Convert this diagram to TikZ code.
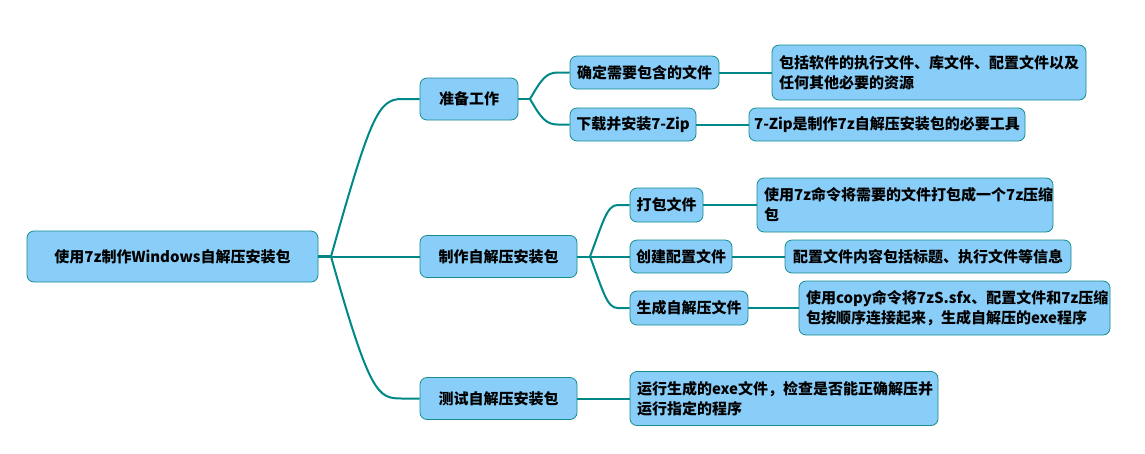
\documentclass[tikz,border=0pt]{standalone}
\usepackage{fontspec}
\setmainfont{Noto Sans CJK SC}
\definecolor{boxfill}{RGB}{137,206,249}
\definecolor{boxline}{RGB}{22,140,140}
\definecolor{conncol}{RGB}{0,136,136}
\tikzset{
  box/.style={draw=boxline, fill=boxfill, rounded corners=7pt, line width=0.8pt,
    font=\bfseries\fontsize{15}{20}\selectfont, inner sep=0pt, align=center, text=black},
  wide/.style={box, align=left, inner xsep=7pt},
  conn/.style={draw=conncol, line width=2pt},
}
\begin{document}
\begin{tikzpicture}[x=1pt,y=-1pt]
\useasboundingbox (0,0) rectangle (1145,453);
% nodes
\node[box, minimum width=291pt, minimum height=51pt] (root) at (172.5,256.5) {使用7z制作Windows自解压安装包};
\node[box, minimum width=98pt, minimum height=42pt] (p1) at (469,99) {准备工作};
\node[box, minimum width=157pt, minimum height=42pt] (p2) at (498.5,256.5) {制作自解压安装包};
\node[box, minimum width=157pt, minimum height=42pt] (p3) at (498.5,398.5) {测试自解压安装包};
\node[box, minimum width=149pt, minimum height=33pt] (a1) at (644.5,72.5) {确定需要包含的文件};
\node[box, minimum width=126pt, minimum height=33pt] (a2) at (633,124.5) {下载并安装7-Zip};
\node[wide, text width=300pt, minimum height=55pt] (a1d) at (929,72.5) {包括软件的执行文件、库文件、配置文件以及\\任何其他必要的资源};
\node[box, minimum width=276pt, minimum height=33pt] (a2d) at (887,124.5) {7-Zip是制作7z自解压安装包的必要工具};
\node[box, minimum width=73pt, minimum height=34pt] (b1) at (666.5,205) {打包文件};
\node[wide, text width=282pt, minimum height=54pt] (b1d) at (905,205) {使用7z命令将需要的文件打包成一个7z压缩\\包};
\node[box, minimum width=102pt, minimum height=33pt] (b2) at (681,256.5) {创建配置文件};
\node[box, minimum width=286pt, minimum height=33pt] (b2d) at (928,256.5) {配置文件内容包括标题、执行文件等信息};
\node[box, minimum width=118pt, minimum height=34pt] (b3) at (689,308) {生成自解压文件};
\node[wide, text width=297pt, minimum height=54pt] (b3d) at (954.5,308) {使用copy命令将7zS.sfx、配置文件和7z压缩\\包按顺序连接起来，生成自解压的exe程序};
\node[wide, text width=294pt, minimum height=54pt] (c1d) at (784,398.5) {运行生成的exe文件，检查是否能正确解压并\\运行指定的程序};
% branch points
\coordinate (rb) at (331,256.5);
\coordinate (pb1) at (530,99);
\coordinate (pb2) at (590,256.5);
% connectors
\draw[conn, line width=2.8pt] (root.east) -- (rb);
\draw[conn] (rb) .. controls (370,118) and (378,99) .. ([xshift=-18pt]p1.west) -- (p1.west);
\draw[conn] (rb) -- (p2.west);
\draw[conn] (rb) .. controls (370,395) and (378,398.5) .. ([xshift=-18pt]p3.west) -- (p3.west);
\draw[conn] (p1.east) -- (pb1);
\draw[conn] (pb1) .. controls (541,80) and (546,72.5) .. ([xshift=-12pt]a1.west) -- (a1.west);
\draw[conn] (pb1) .. controls (541,118) and (546,124.5) .. ([xshift=-12pt]a2.west) -- (a2.west);
\draw[conn] (p2.east) -- (pb2);
\draw[conn] (pb2) .. controls (603,222) and (607,205) .. ([xshift=-12pt]b1.west) -- (b1.west);
\draw[conn] (pb2) -- (b2.west);
\draw[conn] (pb2) .. controls (603,291) and (607,308) .. ([xshift=-12pt]b3.west) -- (b3.west);
\draw[conn] (a1.east) -- (a1d.west);
\draw[conn] (a2.east) -- (a2d.west);
\draw[conn] (b1.east) -- (b1d.west);
\draw[conn] (b2.east) -- (b2d.west);
\draw[conn] (b3.east) -- (b3d.west);
\draw[conn] (p3.east) -- (c1d.west);
\end{tikzpicture}
\end{document}
